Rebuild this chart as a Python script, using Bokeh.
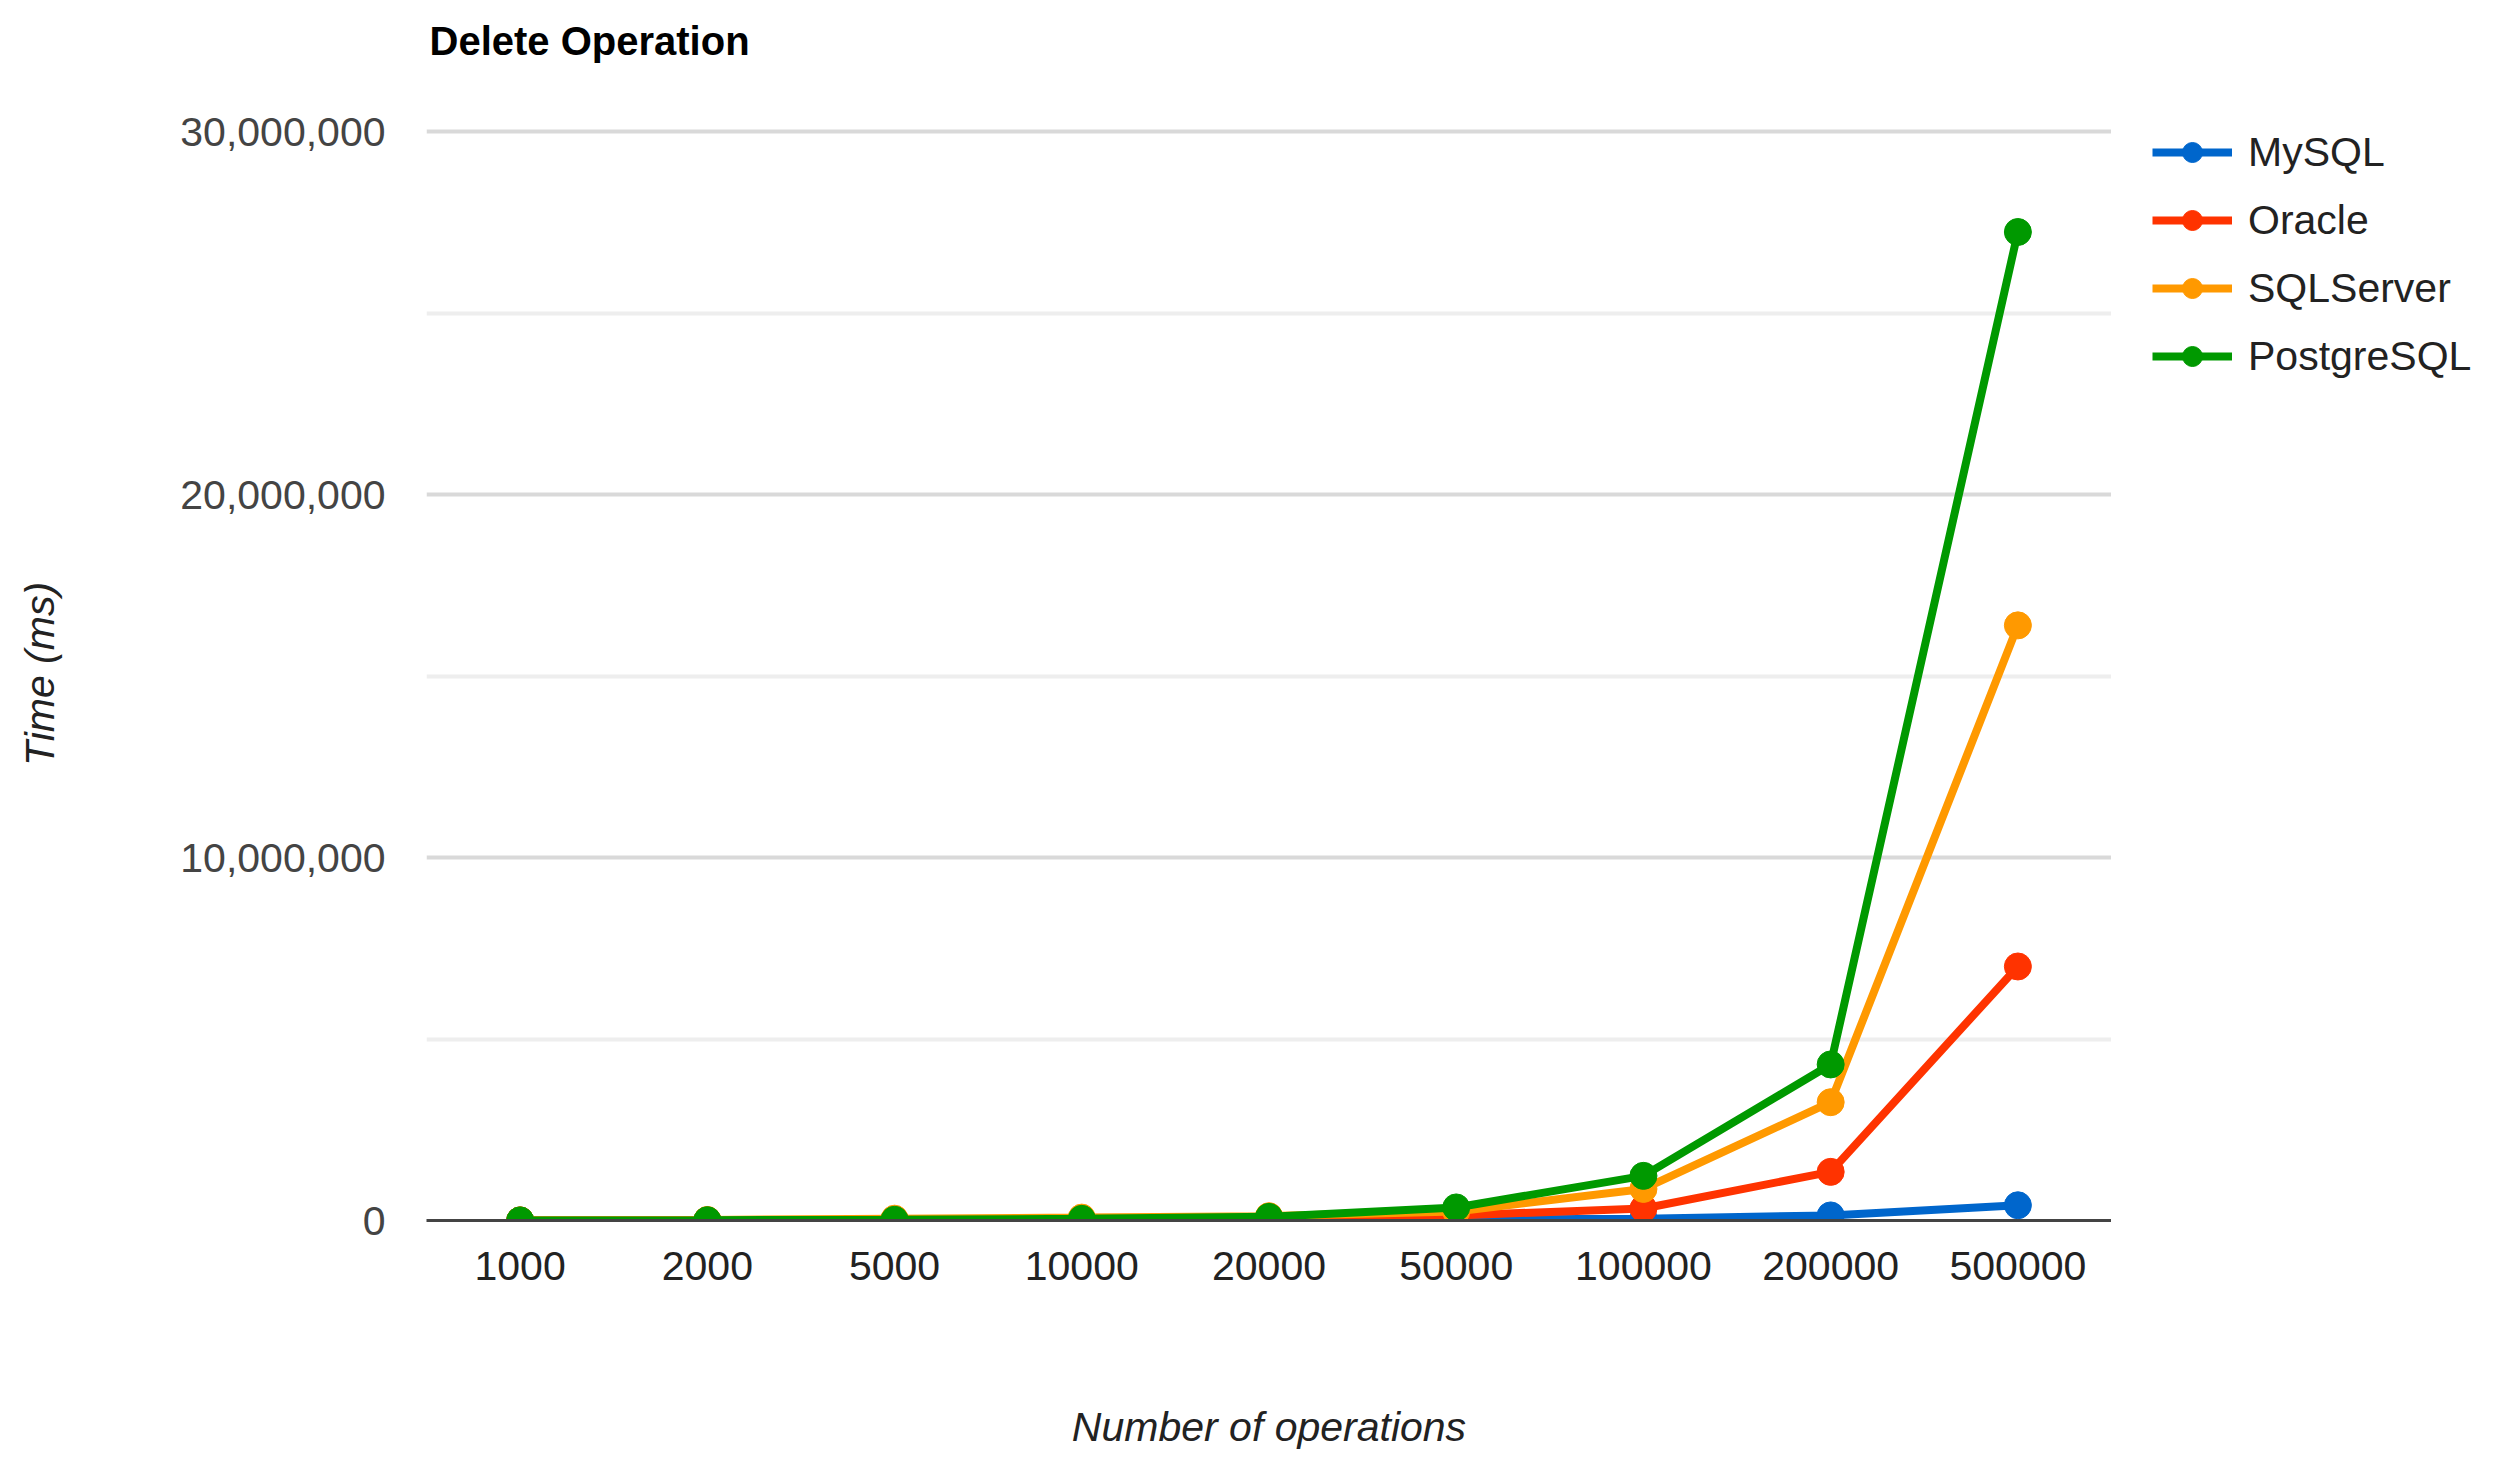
from bokeh.plotting import figure
from bokeh.models import (FactorRange, Range1d, FixedTicker, NumeralTickFormatter,
                          Legend, LegendItem, Title)
from bokeh.layouts import row
from bokeh.embed import file_html
from bokeh.resources import INLINE

ops = ["1000", "2000", "5000", "10000", "20000", "50000", "100000", "200000", "500000"]
mysql = [2000, 4000, 8000, 15000, 25000, 25000, 50000, 140000, 420000]
oracle = [3000, 6000, 12000, 25000, 50000, 140000, 330000, 1340000, 7000000]
sqlserver = [5000, 15000, 50000, 80000, 120000, 250000, 870000, 3260000, 16400000]
postgres = [3000, 8000, 20000, 45000, 100000, 360000, 1230000, 4300000, 27240000]

series_names = ["MySQL", "Oracle", "SQLServer", "PostgreSQL"]
series_values = [mysql, oracle, sqlserver, postgres]
colors = ["#0066cc", "#ff3300", "#ff9900", "#009900"]

y_major = [0, 10000000, 20000000, 30000000]
y_minor = [5000000, 15000000, 25000000]

FONT = "Liberation Sans"
FS = "41px"

H = 1452
W1, W2 = 2111, 366
ML, MT, MB = 426, 127, 230

p = figure(width=W1, height=H, output_backend="svg", toolbar_location=None,
           x_range=FactorRange(factors=ops, range_padding=0),
           y_range=Range1d(0, 30120000),
           min_border_left=ML, min_border_right=0, min_border_top=MT,
           min_border_bottom=MB)
p.outline_line_color = None
p.background_fill_color = "white"
p.border_fill_color = "white"

# spacer between title and frame, then the title itself
spacer = Title(text=" ", text_font=FONT, text_font_size="10px", standoff=51,
               text_color="white")
p.add_layout(spacer, "above")
t = Title(text="Delete Operation", align="left", vertical_align="middle",
          text_font=FONT, text_font_size="40px", text_font_style="bold",
          text_color="#000000", standoff=0, offset=3)
p.add_layout(t, "above")

# axes
p.yaxis.ticker = FixedTicker(ticks=y_major, minor_ticks=y_minor)
p.yaxis.formatter = NumeralTickFormatter(format="0,0")
p.yaxis.axis_line_color = None
p.yaxis.major_tick_line_color = None
p.yaxis.minor_tick_line_color = None
p.yaxis.major_tick_out = 0
p.yaxis.minor_tick_out = 0
p.yaxis.major_label_text_font = FONT
p.yaxis.major_label_text_font_size = FS
p.yaxis.major_label_text_color = "#444444"
p.yaxis.major_label_standoff = 41
p.yaxis.axis_label = "Time (ms)"
p.yaxis.axis_label_text_font = FONT
p.yaxis.axis_label_text_font_size = FS
p.yaxis.axis_label_text_font_style = "italic"
p.yaxis.axis_label_text_color = "#222222"
p.yaxis.axis_label_standoff = 114

p.xaxis.axis_line_color = "#444444"
p.xaxis.axis_line_width = 3
p.xaxis.major_tick_line_color = None
p.xaxis.minor_tick_line_color = None
p.xaxis.major_tick_out = 0
p.xaxis.minor_tick_out = 0
p.xaxis.major_label_text_font = FONT
p.xaxis.major_label_text_font_size = FS
p.xaxis.major_label_text_color = "#222222"
p.xaxis.major_label_standoff = 31
p.xaxis.axis_label = "Number of operations"
p.xaxis.axis_label_text_font = FONT
p.xaxis.axis_label_text_font_size = FS
p.xaxis.axis_label_text_font_style = "italic"
p.xaxis.axis_label_text_color = "#222222"
p.xaxis.axis_label_standoff = 121

p.xgrid.grid_line_color = None
p.ygrid.grid_line_color = "#d9d9d9"
p.ygrid.grid_line_width = 4
p.ygrid.minor_grid_line_color = "#eeeeee"
p.ygrid.minor_grid_line_width = 4

for name, vals, col in zip(series_names, series_values, colors):
    p.line(ops, vals, line_color=col, line_width=8)
    p.scatter(ops, vals, size=27, fill_color=col, line_color=col)

# legend panel (separate figure to the right of the chart)
q = figure(width=W2, height=H, output_backend="svg", toolbar_location=None,
           x_range=Range1d(0, 1), y_range=Range1d(0, 1),
           x_axis_location=None, y_axis_location=None,
           min_border_left=41, min_border_right=0, min_border_top=MT,
           min_border_bottom=MB)
q.outline_line_color = None
q.xgrid.grid_line_color = None
q.ygrid.grid_line_color = None
q.background_fill_color = "white"
q.border_fill_color = "white"

items = []
for name, col in zip(series_names, colors):
    # off-screen proxy renderers so the legend can draw its swatches
    l = q.line(x=[-5, -4], y=[-5, -5], line_color=col, line_width=8)
    s = q.scatter(x=[-5], y=[-5], size=27, fill_color=col, line_color=col)
    items.append(LegendItem(label=name, renderers=[l, s]))

legend = Legend(items=items, location="top_left", orientation="vertical",
                border_line_color=None, background_fill_alpha=0,
                label_text_font=FONT, label_text_font_size=FS,
                label_text_color="#222222", glyph_width=80, glyph_height=50,
                label_height=50, label_standoff=16, spacing=18, padding=0,
                margin=0)
q.add_layout(legend, "center")

layout = row(p, q)
open("out.html", "w").write(file_html(layout, INLINE))
